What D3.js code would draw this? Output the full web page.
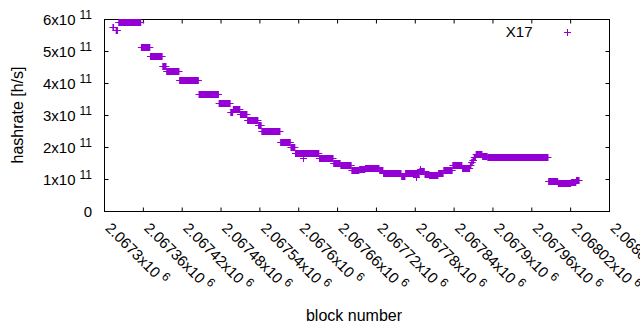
<!DOCTYPE html>
<html>
<head>
<meta charset="utf-8">
<script src="https://cdn.jsdelivr.net/npm/d3@7"></script>
<style>
  body { margin: 0; background: #fff; }
  text { font-family: "Liberation Sans", Arial, sans-serif; fill: #000; }
</style>
</head>
<body>
<script>
// block ranges with constant hashrate (one "+" per block in the original plot)
var runStart = [2067313, 2067318, 2067322, 2067357, 2067371, 2067390, 2067396, 2067416, 2067446, 2067477,
  2067495, 2067499, 2067510, 2067521, 2067538, 2067543, 2067572, 2067588, 2067595, 2067615,
  2067632, 2067654, 2067665, 2067682, 2067694, 2067703, 2067725, 2067731, 2067759, 2067765,
  2067787, 2067795, 2067802, 2067816, 2067824, 2067838, 2067853, 2067865, 2067867, 2067869,
  2067871, 2067874, 2067884, 2067892, 2067986, 2068001, 2068021, 2068029];
var runEnd = [2067314, 2067320, 2067356, 2067370, 2067389, 2067395, 2067415, 2067445, 2067476, 2067494,
  2067498, 2067509, 2067520, 2067537, 2067542, 2067571, 2067587, 2067594, 2067614, 2067631,
  2067653, 2067664, 2067681, 2067693, 2067702, 2067724, 2067730, 2067758, 2067764, 2067786,
  2067794, 2067801, 2067815, 2067823, 2067837, 2067852, 2067864, 2067866, 2067868, 2067870,
  2067873, 2067883, 2067891, 2067985, 2068000, 2068020, 2068028, 2068033];
var runRate = [5.75e11, 5.66e11, 5.93e11, 5.14e11, 4.86e11, 4.55e11, 4.39e11, 4.11e11, 3.67e11, 3.39e11,
  3.11e11, 3.20e11, 3.05e11, 2.86e11, 2.69e11, 2.52e11, 2.17e11, 2.02e11, 1.83e11, 1.84e11,
  1.67e11, 1.52e11, 1.45e11, 1.30e11, 1.33e11, 1.36e11, 1.30e11, 1.20e11, 1.11e11, 1.20e11,
  1.27e11, 1.17e11, 1.14e11, 1.20e11, 1.30e11, 1.45e11, 1.36e11, 1.45e11, 1.55e11, 1.62e11,
  1.70e11, 1.80e11, 1.73e11, 1.70e11, 0.94e11, 0.88e11, 0.92e11, 0.98e11];

// single stray blocks
var strayBlock = [2067606, 2067781, 2067788];
var strayRate = [1.67e11, 1.08e11, 1.32e11];

var xTicks = [2067300, 2067360, 2067420, 2067480, 2067540, 2067600, 2067660,
  2067720, 2067780, 2067840, 2067900, 2067960, 2068020, 2068080];
var xTickLabels = ["2.0673", "2.06736", "2.06742", "2.06748", "2.06754", "2.0676", "2.06766",
  "2.06772", "2.06778", "2.06784", "2.0679", "2.06796", "2.06802", "2.06808"];
var yTicks = [0, 1e11, 2e11, 3e11, 4e11, 5e11, 6e11];
var yTickLabels = ["0", "1", "2", "3", "4", "5", "6"];

var seriesName = "X17";
var color = "#9400d3";

// plot frame (pixels)
var plotL = 104, plotR = 609, plotT = 19, plotB = 211;

var svg = d3.select("body").append("svg")
  .attr("width", 640)
  .attr("height", 330);

var x = d3.scaleLinear().domain([2067300, 2068080]).range([plotL + 0.5, plotR + 0.5]);
var y = d3.scaleLinear().domain([0, 6e11]).range([plotB + 0.5, plotT + 0.5]);

/**
 * gnuplot style ticks: inward, mirrored on all four sides
 */
function ticks(axis, tx, ty) {
  return svg.append("g")
    .attr("transform", "translate(" + tx + "," + ty + ")")
    .call(axis.tickSizeInner(-4).tickSizeOuter(0).tickFormat("").offset(0))
    .call(function (g) { g.select(".domain").remove(); })
    .call(function (g) { g.selectAll(".tick text").remove(); })
    .call(function (g) { g.selectAll(".tick line").attr("stroke", "#000"); });
}

var gx = ticks(d3.axisBottom(x).tickValues(xTicks), 0, plotB + 0.5);
ticks(d3.axisTop(x).tickValues(xTicks), 0, plotT + 0.5);
var gy = ticks(d3.axisLeft(y).tickValues(yTicks), plotL + 0.5, 0);
ticks(d3.axisRight(y).tickValues(yTicks), plotR + 0.5, 0);

// x tick labels, rotated 45 degrees, with superscript exponent
gx.selectAll(".tick").each(function (d, i) {
  var t = d3.select(this).append("text")
    .attr("transform", "translate(0,17.5) rotate(45)")
    .attr("text-anchor", "start")
    .attr("font-size", 15);
  t.append("tspan").text(xTickLabels[i] + "x10");
  t.append("tspan").attr("dx", 4).attr("dy", -6).attr("font-size", 12).text("6");
});

// y tick labels
gy.selectAll(".tick").each(function (d, i) {
  var t = d3.select(this).append("text")
    .attr("x", -12.5)
    .attr("y", 5)
    .attr("text-anchor", "end")
    .attr("font-size", 15);
  if (d === 0) {
    t.text(yTickLabels[i]);
    return;
  }
  t.append("tspan").text(yTickLabels[i] + "x10");
  t.append("tspan").attr("dx", 4).attr("dy", -6).attr("font-size", 12).text("11");
});

// border
svg.append("rect")
  .attr("x", plotL + 0.5).attr("y", plotT + 0.5)
  .attr("width", plotR - plotL).attr("height", plotB - plotT)
  .attr("fill", "none").attr("stroke", "#000");

// runs of overlapping "+" markers
var runs = d3.range(runStart.length).map(function (i) {
  return { s: runStart[i], e: runEnd[i], r: runRate[i] };
});
var g = svg.append("g").attr("fill", color).attr("stroke", color);
g.selectAll(".run").data(runs).enter().append("path")
  .attr("class", "run")
  .attr("stroke-width", 1)
  .attr("d", function (d) {
    var yc = Math.round(y(d.r)) + 0.5;
    return "M" + (x(d.s) - 3.5) + "," + yc + "H" + (x(d.e) + 3.5);
  });
g.selectAll(".runbar").data(runs).enter().append("rect")
  .attr("class", "runbar")
  .attr("stroke", "none")
  .attr("x", function (d) { return x(d.s) - 0.5; })
  .attr("width", function (d) { return x(d.e) - x(d.s) + 1; })
  .attr("y", function (d) { return Math.round(y(d.r)) - 3; })
  .attr("height", 7);

var strays = d3.range(strayBlock.length).map(function (i) {
  return { b: strayBlock[i], r: strayRate[i] };
});
g.selectAll(".stray").data(strays).enter().append("path")
  .attr("class", "stray")
  .attr("d", function (d) {
    var xc = Math.round(x(d.b)) + 0.5, yc = Math.round(y(d.r)) + 0.5;
    return "M" + (xc - 3.5) + "," + yc + "H" + (xc + 3.5) + "M" + xc + "," + (yc - 3.5) + "V" + (yc + 3.5);
  });

// axis titles
svg.append("text")
  .attr("transform", "translate(23,115) rotate(-90)")
  .attr("text-anchor", "middle")
  .attr("font-size", 16)
  .text("hashrate [h/s]");
svg.append("text")
  .attr("x", 354).attr("y", 321)
  .attr("text-anchor", "middle")
  .attr("font-size", 16)
  .text("block number");

// key
svg.append("text")
  .attr("x", 532.5).attr("y", 36.5)
  .attr("text-anchor", "end")
  .attr("font-size", 15)
  .text(seriesName);
svg.append("path")
  .attr("stroke", color)
  .attr("d", "M564,32.5H571M567.5,29V36");
</script>
</body>
</html>
